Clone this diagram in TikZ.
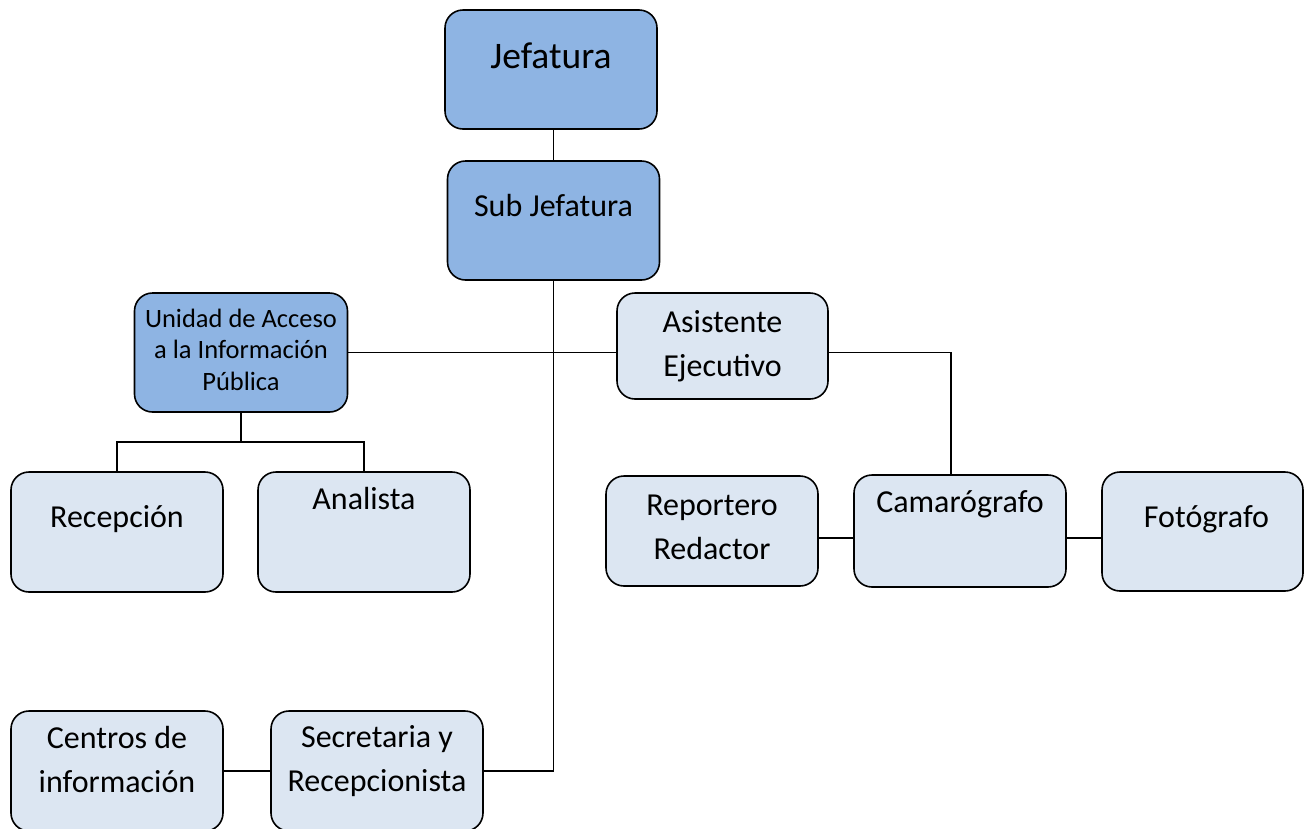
\documentclass[tikz,border=0pt]{standalone}
\usepackage{fontspec}
\setmainfont{Carlito}
\definecolor{darkBlue}{RGB}{142,180,227}
\definecolor{paleBlue}{RGB}{220,230,242}

\begin{document}
\begin{tikzpicture} [x = 1pt, y = -1pt,
	box/.style = {draw, line width = 1.6pt, rounded corners = 18pt, minimum width = 212pt, minimum height = 119pt, inner sep = 0pt, align = center, font = \fontsize{32}{44}\selectfont},
	headBox/.style = {box, fill = darkBlue},
	staffBox/.style = {box, fill = paleBlue},
	link/.style = {line width = 1.2pt}]

	\useasboundingbox (0, 0) rectangle (1305, 828);

		% Define boxes.

	%top
	\node[headBox, font = \fontsize{37.5}{44}\selectfont, text height = 26pt, text depth = 29pt] (jefatura) at (551, 69.5) {Jefatura};
	\node[headBox, text height = 24pt, text depth = 33pt] (subJefatura) at (553.5, 220.5) {Sub Jefatura};

	%left branch
	\node[headBox, minimum width = 213pt, font = \fontsize{26.5}{31.5}\selectfont, text height = 75pt, text depth = 0pt] (uaip) at (241, 352.5) {Unidad de Acceso\\ a la Información\\ Pública};
	\node[staffBox, minimum height = 120pt, text height = 24pt, text depth = 34pt] (recepcion) at (117, 532) {Recepción};
	\node[staffBox, minimum height = 120pt, text height = 24pt, text depth = 69pt] (analista) at (364, 532) {Analista};

	%right branch
	\node[staffBox, minimum width = 211pt, minimum height = 106pt, text height = 60pt, text depth = 0pt] (asistente) at (722.5, 346) {Asistente\\ Ejecutivo};
	\node[staffBox, minimum height = 110pt, text height = 56pt, text depth = 0pt] (reportero) at (712, 531) {Reportero\\ Redactor};
	\node[staffBox, minimum height = 112pt, text height = 24pt, text depth = 62pt] (camarografo) at (960, 531) {Camarógrafo};
	\node[staffBox, minimum width = 201pt, text height = 24pt, text depth = 33pt] (fotografo) at (1202.5, 531.5) {\hspace{8pt}Fotógrafo};

	%bottom
	\node[staffBox, minimum height = 120pt, text height = 42pt, text depth = 0pt] (centros) at (117, 771) {Centros de\\ información};
	\node[staffBox, minimum height = 120pt, text height = 40pt, text depth = 0pt] (secretaria) at (377, 771) {Secretaria y\\ Recepcionista};

	\coordinate (uaipFork) at (241, 442);
	\coordinate (pressLine) at (0, 538);

% Draw lines.

	\draw[link] (jefatura.south -| subJefatura.north) -- (subJefatura.north);
	\draw[link] (subJefatura.south) |- (secretaria.east);
	\draw[link] (centros) -- (secretaria);

	\draw[link] (uaip.east) -- (uaip.east -| asistente.west);
	\draw[link] (uaip.east -| asistente.east) -| ([xshift = -9pt]camarografo.north);

	\draw[link] (uaip.south) -- (uaipFork);
	\draw[link] (recepcion.north) |- (uaipFork) -| (analista.north);

	\draw[link] (reportero.east |- pressLine) -- (camarografo.west |- pressLine);
	\draw[link] (camarografo.east |- pressLine) -- (fotografo.west |- pressLine);

\end{tikzpicture}
\end{document}
